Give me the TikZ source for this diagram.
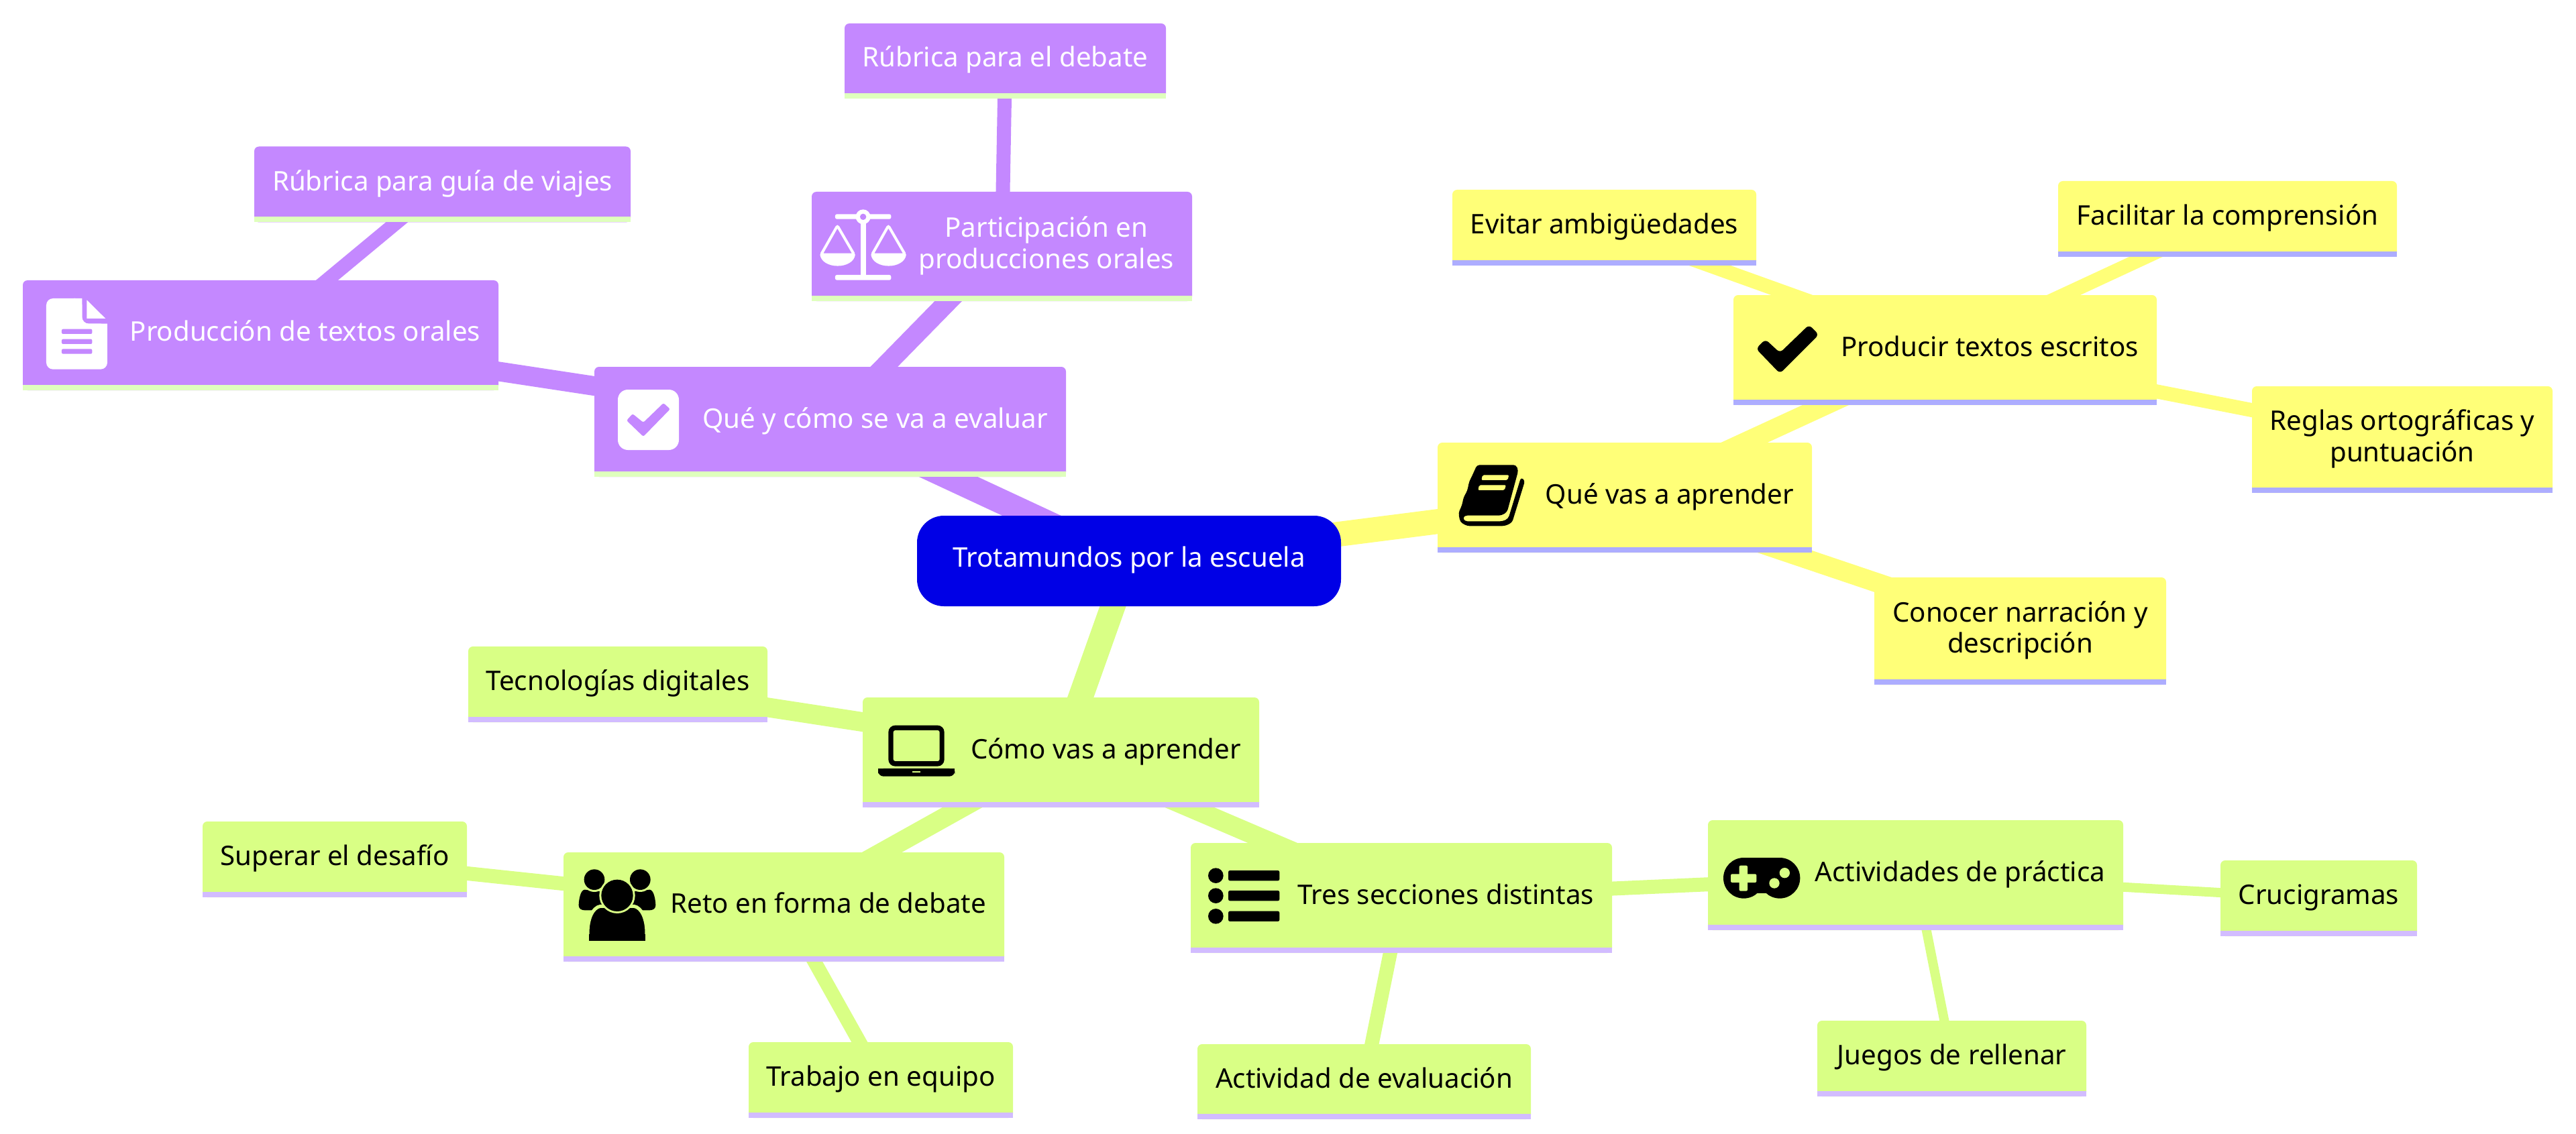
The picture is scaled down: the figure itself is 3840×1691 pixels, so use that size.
\documentclass[tikz,border=0pt]{standalone}
\usepackage{fontspec}
\setmainfont{Noto Sans}
\usetikzlibrary{backgrounds}
\definecolor{rootblue}{HTML}{0000E6}
\definecolor{evalpurple}{HTML}{C488FF}
\definecolor{evalbar}{HTML}{DFFFBD}
\definecolor{learnyellow}{HTML}{FFFF78}
\definecolor{learnbar}{HTML}{ADADFF}
\definecolor{howlime}{HTML}{D9FF85}
\definecolor{howbar}{HTML}{D2BCFF}
\newcommand{\px}{.2pt}
\tikzset{
  mapbox/.style={rectangle,inner sep=0pt,outer sep=0pt,rounded corners=1.4pt,font=\fontsize{8.05}{9.3}\selectfont},
  boxsize/.style 2 args={minimum width=#1*\px,minimum height=#2*\px},
  oneline/.style={text height=5.6pt,text depth=2pt},
  twolines/.style={align=center,text height=15pt,text depth=2pt},
  iconwidth/.style={text width=#1*\px-10.8pt,align=flush right},
  evalbox/.style={mapbox,fill=evalpurple,text=white},
  learnbox/.style={mapbox,fill=learnyellow,text=black},
  howbox/.style={mapbox,fill=howlime,text=black},
  linkone/.style={line width=7.4pt},
  linktwo/.style={line width=5.8pt},
  linkthree/.style={line width=4.2pt},
  linkfour/.style={line width=2.8pt}
}
\begin{document}
\begin{tikzpicture}[x=.2pt,y=-.2pt]
\useasboundingbox (0,0) rectangle (3840,1691);

\node[mapbox,fill=rootblue,text=white,rounded corners=8pt,boxsize={632}{135},oneline] (root) at (1683,836.5) {Trotamundos por la escuela};

\node[evalbox,boxsize={703}{164},iconwidth=703,oneline] (evaluar) at (1237.5,629) {Qué y cómo se va a evaluar};
\node[evalbox,boxsize={709}{164},iconwidth=709,oneline] (produccion) at (388.5,500) {Producción de textos orales};
\node[evalbox,boxsize={561}{113},oneline] (viajes) at (659.5,275) {Rúbrica para guía de viajes};
\node[evalbox,boxsize={567}{163},iconwidth=567,text height=6pt,text depth=11.4pt] (participacion) at (1493.5,367.5) {\begin{tabular}[t]{@{}c@{}}Participación en\\producciones orales\end{tabular}};
\node[evalbox,boxsize={479}{112},oneline] (debate) at (1498.5,91) {Rúbrica para el debate};

\node[learnbox,boxsize={558}{164},iconwidth=558,oneline] (quevas) at (2422,742) {Qué vas a aprender};
\node[learnbox,boxsize={631}{164},iconwidth=631,oneline] (producir) at (2899.5,522) {Producir textos escritos};
\node[learnbox,boxsize={453}{113},oneline] (evitar) at (2391.5,339.5) {Evitar ambigüedades};
\node[learnbox,boxsize={505}{113},oneline] (facilitar) at (3320.5,326.5) {Facilitar la comprensión};
\node[learnbox,boxsize={448}{159},twolines] (reglas) at (3581,655.5) {Reglas ortográficas y\\puntuación};
\node[learnbox,boxsize={435}{160},twolines] (conocer) at (3011.5,941) {Conocer narración y\\descripción};

\node[howbox,boxsize={591}{164},iconwidth=591,oneline] (comovas) at (1581.5,1122) {Cómo vas a aprender};
\node[howbox,boxsize={446}{113},oneline] (tecnologias) at (921,1020.5) {Tecnologías digitales};
\node[howbox,boxsize={657}{163},iconwidth=657,oneline] (reto) at (1168.5,1352.5) {Reto en forma de debate};
\node[howbox,boxsize={394}{113},oneline] (superar) at (499,1281.5) {Superar el desafío};
\node[howbox,boxsize={394}{113},oneline] (trabajo) at (1313,1610.5) {Trabajo en equipo};
\node[howbox,boxsize={628}{164},iconwidth=628,oneline] (tres) at (2089,1339) {Tres secciones distintas};
\node[howbox,boxsize={497}{112},oneline] (actividad) at (2033.5,1613) {Actividad de evaluación};
\node[howbox,boxsize={619}{164},iconwidth=619,oneline] (practica) at (2855.5,1305) {Actividades de práctica};
\node[howbox,boxsize={293}{113},oneline] (crucigramas) at (3456.5,1339.5) {Crucigramas};
\node[howbox,boxsize={401}{113},oneline] (juegos) at (2909.5,1578.5) {Juegos de rellenar};

\foreach \n in {evaluar,produccion,viajes,participacion,debate}\fill[evalbar] (\n.south west) rectangle ([yshift=1.6pt]\n.south east);
\foreach \n in {quevas,producir,evitar,facilitar,reglas,conocer}\fill[learnbar] (\n.south west) rectangle ([yshift=1.6pt]\n.south east);
\foreach \n in {comovas,tecnologias,reto,superar,trabajo,tres,actividad,practica,crucigramas,juegos}\fill[howbar] (\n.south west) rectangle ([yshift=1.6pt]\n.south east);

\begin{scope}[on background layer]
\draw[evalpurple,linkone] (root.center) -- (evaluar.center);
\draw[learnyellow,linkone] (root.center) -- (quevas.center);
\draw[howlime,linkone] (root.center) -- (comovas.center);
\foreach \a/\b in {evaluar/produccion,evaluar/participacion}\draw[evalpurple,linktwo] (\a.center) -- (\b.center);
\foreach \a/\b in {produccion/viajes,participacion/debate}\draw[evalpurple,linkthree] (\a.center) -- (\b.center);
\foreach \a/\b in {quevas/producir,quevas/conocer}\draw[learnyellow,linktwo] (\a.center) -- (\b.center);
\foreach \a/\b in {producir/evitar,producir/facilitar,producir/reglas}\draw[learnyellow,linkthree] (\a.center) -- (\b.center);
\foreach \a/\b in {comovas/tecnologias,comovas/reto,comovas/tres}\draw[howlime,linktwo] (\a.center) -- (\b.center);
\foreach \a/\b in {reto/superar,reto/trabajo,tres/actividad,tres/practica}\draw[howlime,linkthree] (\a.center) -- (\b.center);
\foreach \a/\b in {practica/crucigramas,practica/juegos}\draw[howlime,linkfour] (\a.center) -- (\b.center);
\end{scope}

% check box
\fill[white,rounded corners=3pt] (921,581) rectangle (1012,671);
\fill[evalpurple,rounded corners=.5pt] (934,627) -- (943,617) -- (959,630) -- (989,601) -- (999,610) -- (959,651) -- cycle;

% page
\begin{scope}[shift={(50,430)},scale=.3333]
\fill[white,rounded corners=2pt] (57,45) -- (217,45) -- (217,158) -- (330,158) -- (330,362) -- (57,362) -- cycle;
\fill[white] (180,45) -- (217,45) -- (217,135) .. controls (217,150) and (225,158) .. (240,158) -- (330,158) -- (330,200) -- (180,200) -- cycle;
\fill[white] (238,52) -- (322,135) -- (238,135) -- cycle;
\foreach \y in {182,227,271}\fill[evalpurple,rounded corners=.4pt] (126,\y) rectangle (262,\y+22);
\end{scope}

% scales
\begin{scope}[shift={(880,280)},scale=.3333]
\fill[white,rounded corners=.5pt] (1095,118) rectangle (1345,140);
\fill[white,rounded corners=.5pt] (1095,390) rectangle (1345,413);
\fill[white] (1208,130) rectangle (1232,400);
\fill[white] (1220,130) circle (33);
\fill[evalpurple] (1220,130) circle (14);
\foreach \d in {0,228}{
\draw[white,line width=.8pt,rounded corners=.5pt] (1105+\d,170) -- (1032+\d,299) -- (1180+\d,299) -- cycle;
\fill[white] (1027+\d,298) .. controls (1035+\d,367) and (1177+\d,367) .. (1185+\d,298) -- cycle;
}
\end{scope}

% book
\begin{scope}[shift={(2150,670)},scale=.3333]
\fill[black,rounded corners=.8pt] (155,70) -- (330,70) -- (340,95) -- (290,280) -- (265,296) -- (100,296) -- (92,308) -- (100,322) -- (270,322) -- (295,310) -- (352,125) -- (370,140) -- (312,328) -- (280,343) -- (110,343) -- (80,325) -- (72,285) -- (88,250) -- (95,215) -- (112,185) -- (120,145) -- (135,115) -- cycle;
\fill[learnyellow,rounded corners=.4pt] (180,115) -- (298,115) -- (292,138) -- (175,138) -- cycle;
\fill[learnyellow,rounded corners=.4pt] (165,160) -- (285,160) -- (278,183) -- (160,183) -- cycle;
\end{scope}

% tick
\begin{scope}[shift={(2600,460)},scale=.3333]
\fill[black,rounded corners=1.2pt] (95,138) -- (160,198) -- (290,73) -- (334,117) -- (160,291) -- (53,180) -- cycle;
\end{scope}

% laptop
\begin{scope}[shift={(1300,1020)},scale=.3333]
\fill[black,rounded corners=2pt] (73,185) rectangle (323,368);
\fill[howlime,rounded corners=.6pt] (95,207) rectangle (302,345);
\fill[black,rounded corners=1.6pt] (27,378) -- (370,378) -- (370,413) -- (27,413) -- cycle;
\fill[black] (27,378) rectangle (370,395);
\fill[howlime] (181,390) rectangle (216,396);
\end{scope}

% people
\begin{scope}[shift={(850,1280)},scale=.3333]
\foreach \s/\c in {1/0,-1/420}{
\fill[black] (\c+\s*65,140) .. controls (\c+\s*45,140) and (\c+\s*38,190) .. (\c+\s*38,210) .. controls (\c+\s*38,225) and (\c+\s*50,232) .. (\c+\s*65,232) -- (\c+\s*150,232) -- (\c+\s*150,150) -- cycle;
}
\fill[howlime] (108,95) circle (55);
\fill[howlime] (313,95) circle (55);
\fill[black] (108,95) circle (46);
\fill[black] (313,95) circle (46);
\filldraw[fill=black,draw=howlime,line width=1pt] (135,214) .. controls (100,220) and (78,270) .. (78,335) .. controls (78,362) and (105,375) .. (130,375) -- (290,375) .. controls (315,375) and (342,362) .. (342,335) .. controls (342,270) and (320,220) .. (285,214) -- cycle;
\fill[black] (85,340) rectangle (335,368);
\fill[howlime] (210,166) circle (80);
\fill[black] (210,166) circle (71);
\end{scope}

% list
\begin{scope}[shift={(1790,1270)},scale=.3333]
\foreach \y in {107,197,289}{
\fill[black] (67,\y) circle (34);
\fill[black,rounded corners=.5pt] (123,\y-23) rectangle (352,\y+23);
}
\end{scope}

% gamepad
\begin{scope}[shift={(2555,1260)},scale=.3333]
\fill[black] (133,148) circle (91);
\fill[black] (294,148) circle (91);
\fill[black] (133,57) rectangle (294,215);
\fill[howlime,rounded corners=.4pt] (75,130) rectangle (190,168);
\fill[howlime,rounded corners=.4pt] (113,92) rectangle (150,206);
\fill[howlime] (316,125) circle (23);
\fill[howlime] (270,171) circle (23);
\end{scope}
\end{tikzpicture}
\end{document}
